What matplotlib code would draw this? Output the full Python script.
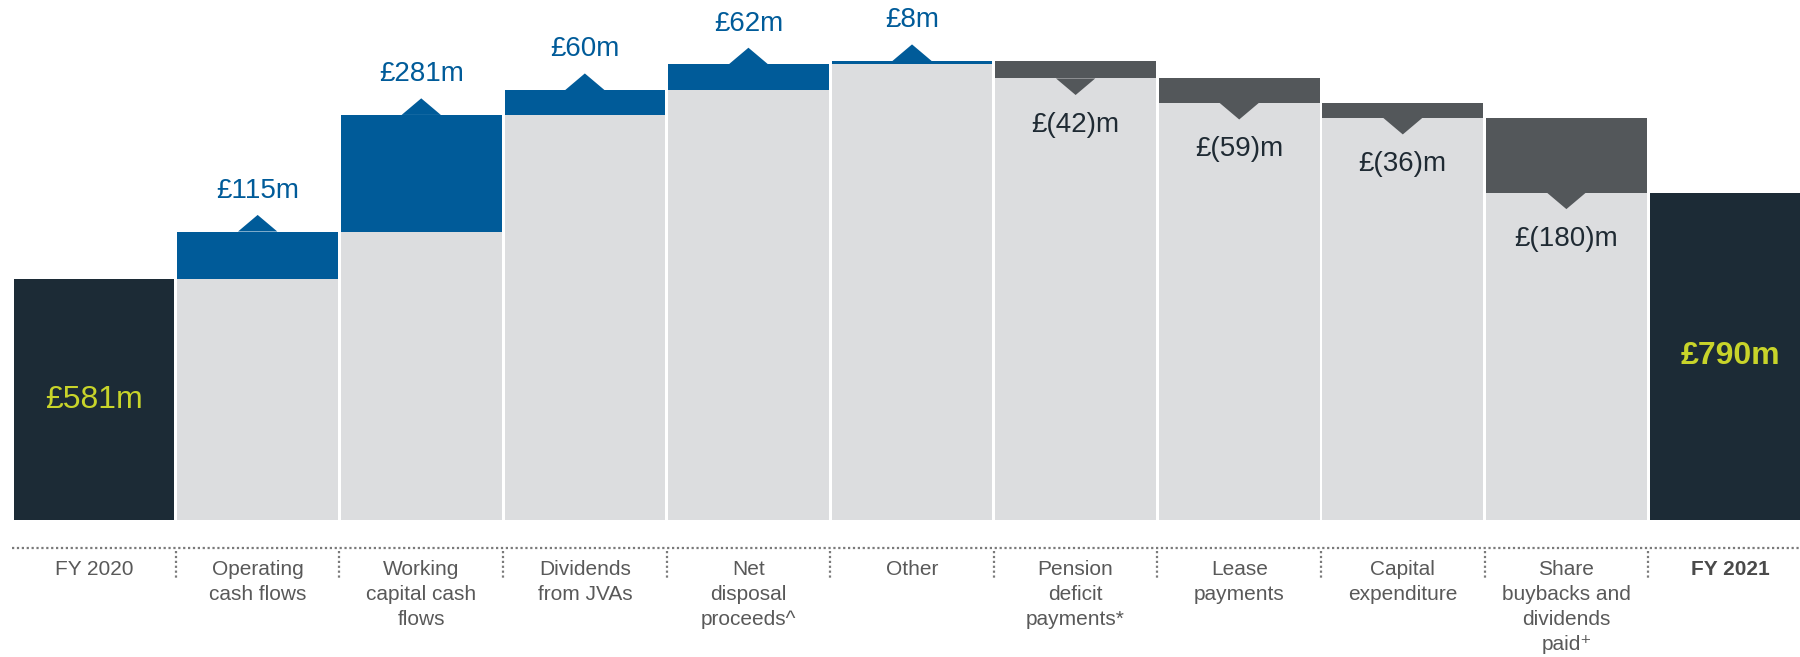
import matplotlib.pyplot as plt
from matplotlib.patches import Polygon

# Data (GBP m)
categories = ['FY 2020', 'Operating\ncash flows', 'Working\ncapital cash\nflows',
              'Dividends\nfrom JVAs', 'Net\ndisposal\nproceeds^', 'Other',
              'Pension\ndeficit\npayments*', 'Lease\npayments', 'Capital\nexpenditure',
              'Share\nbuybacks and\ndividends\npaid⁺', 'FY 2021']
start_value = 581
changes = [115, 281, 60, 62, 8, -42, -59, -36, -180]
end_value = 790

NAVY = '#1c2b36'
LIGHT = '#dcdddf'
BLUE = '#005b99'
DARK = '#53575a'
LIME = '#c8d42a'
TXT = '#595959'

plt.rcParams['font.family'] = ['Liberation Sans', 'DejaVu Sans']

fig = plt.figure(figsize=(18, 6.57), dpi=100)
ax = fig.add_axes([0, 0, 1, 1])
ax.set_xlim(-0.575, 10.428)
ax.set_ylim(-329.5, 1254)
ax.axis('off')

w = 0.982
tri_w = 0.12
tri_h = 40

# start bar
ax.bar(0, start_value, width=w, color=NAVY, align='center')
ax.text(0, start_value / 2, f'£{start_value}m', color=LIME, fontsize=23,
        ha='center', va='center')

level = start_value
for i, d in enumerate(changes, start=1):
    new = level + d
    low, high = min(level, new), max(level, new)
    ax.bar(i, low, width=w, color=LIGHT)
    if d > 0:
        ax.bar(i, high - low, bottom=low, width=w, color=BLUE)
        ax.add_patch(Polygon([[i - tri_w, high], [i + tri_w, high], [i, high + tri_h]],
                             closed=True, color=BLUE, lw=0))
        ax.text(i, high + 98, f'£{d}m', color=BLUE, fontsize=20,
                ha='center', va='center')
    else:
        ax.bar(i, high - low, bottom=low, width=w, color=DARK)
        ax.add_patch(Polygon([[i - tri_w, low], [i + tri_w, low], [i, low - tri_h]],
                             closed=True, color=DARK, lw=0))
        ax.text(i, low - 112, f'£({-d})m', color='#1f2a33', fontsize=20,
                ha='center', va='center')
    level = new

# end bar
n = len(categories) - 1
ax.bar(n, end_value, width=w, color=NAVY)
ax.text(n, end_value / 2, f'£{end_value}m', color=LIME, fontsize=23,
        fontweight='bold', ha='center', va='center')

# axis area: dotted line, separators, category labels
ax.plot([-0.5, 10.43], [-66, -66], ls=(0, (1, 1.2)), color='#7a7a7a', lw=1.6)
for i in range(n):
    ax.plot([i + 0.5, i + 0.5], [-75, -144], ls=(0, (1, 1.2)), color='#7a7a7a', lw=1.6)
for i, lab in enumerate(categories):
    bold = (i == n)
    ax.text(i, -96, lab, color='#4a4a4a' if bold else TXT, fontsize=15,
            fontweight='bold' if bold else 'normal',
            ha='center', va='top', linespacing=1.4)

fig.savefig('out.png', dpi=100)
